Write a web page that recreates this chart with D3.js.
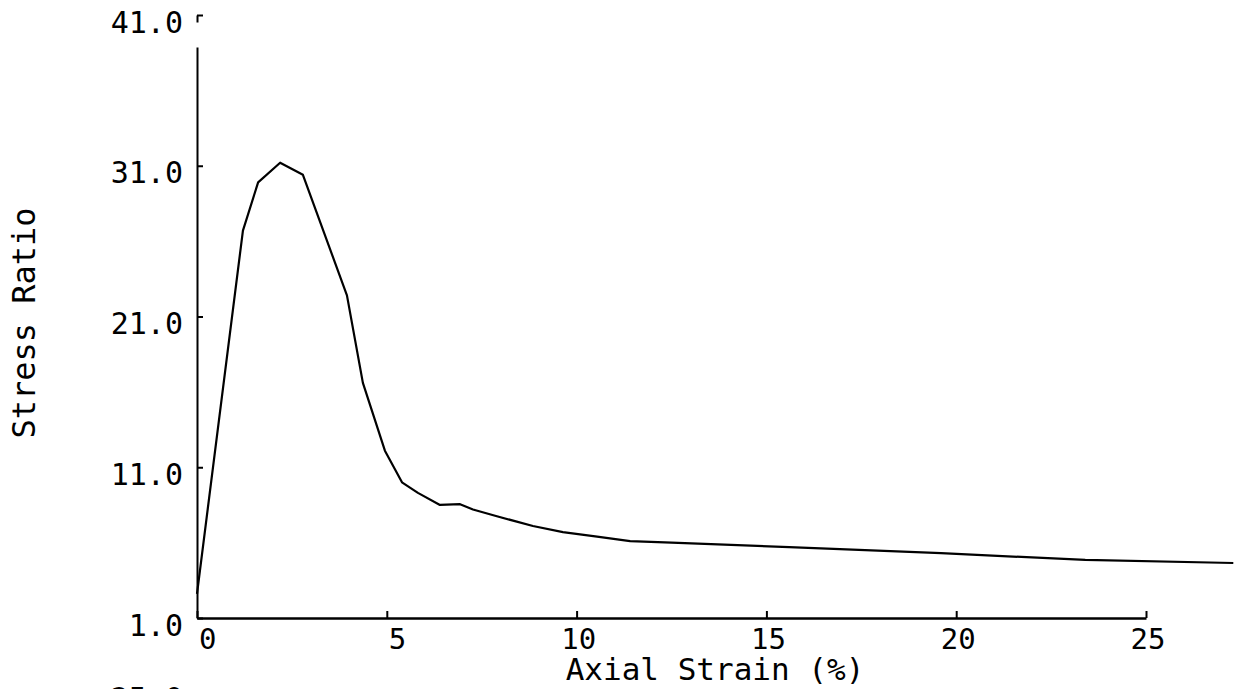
<!DOCTYPE html>
<html>
<head>
<meta charset="utf-8">
<script src="https://cdn.jsdelivr.net/npm/d3@7"></script>
<style>
  html, body { margin: 0; padding: 0; background: #fff; }
  svg { display: block; }
  text { font-family: "DejaVu Sans Mono", monospace; fill: #000; font-variant-numeric: slashed-zero; }
</style>
</head>
<body>
<div id="chart"></div>
<script>
// values
const strain = [0, 1.21, 1.61, 2.19, 2.79, 3.95, 4.37, 4.95, 5.40, 5.82, 6.40, 6.93, 7.27, 7.90, 8.85, 9.64, 10.54, 11.41, 12.5, 15.6, 19.6, 23.4, 27.3];
const stressRatio = [2.6, 26.7, 29.9, 31.2, 30.4, 22.4, 16.6, 12.1, 10.0, 9.3, 8.5, 8.55, 8.2, 7.75, 7.1, 6.7, 6.4, 6.1, 6.0, 5.7, 5.3, 4.85, 4.65];
const xTicks = [0, 5, 10, 15, 20, 25];
const yTicks = [1, 11, 21, 31, 41];

const width = 1242, height = 689;

const svg = d3.select("#chart").append("svg")
  .attr("width", width)
  .attr("height", height);

const xScale = d3.scaleLinear([0, 25], [197, 1146]);
const yScale = d3.scaleLinear([1, 41], [618, 15]);

// y axis, ticks point inward
const gY = svg.append("g")
  .attr("transform", "translate(197,0)")
  .call(d3.axisLeft(yScale).tickValues(yTicks).tickFormat(d3.format(".1f"))
    .tickSizeInner(-6).tickSizeOuter(0).tickPadding(14));
// the scanned axis has a small break just under the top tick
gY.select(".domain").attr("stroke-width", 2).attr("stroke-dasharray", "571,25,10");
gY.selectAll(".tick line").attr("stroke-width", 2);
gY.selectAll(".tick text")
  .attr("font-size", 30)
  .attr("font-family", "DejaVu Sans Mono")
  .attr("dy", 17);

// x axis
const gX = svg.append("g")
  .attr("transform", "translate(0,618)")
  .call(d3.axisBottom(xScale).tickValues(xTicks).tickFormat(d3.format("d"))
    .tickSizeInner(-7).tickSizeOuter(0).tickPadding(0));
gX.select(".domain").attr("stroke-width", 2.5);
gX.selectAll(".tick line").attr("stroke-width", 2);
gX.selectAll(".tick text")
  .attr("font-size", 29)
  .attr("font-family", "DejaVu Sans Mono")
  .attr("text-anchor", "end")
  .attr("x", 19)
  .attr("y", 31)
  .attr("dy", 0);

// axis titles
svg.append("text")
  .attr("x", 715).attr("y", 680)
  .attr("text-anchor", "middle")
  .attr("font-size", 31)
  .text("Axial Strain (%)");

svg.append("text")
  .attr("transform", "translate(35,323) rotate(-90)")
  .attr("text-anchor", "middle")
  .attr("font-size", 32)
  .text("Stress Ratio");

// label of the next plot, cut off by the page edge
svg.append("text")
  .attr("x", 183).attr("y", 709)
  .attr("text-anchor", "end")
  .attr("font-size", 30)
  .text("25.0");

// curve
const line = d3.line()
  .x((d, i) => xScale(strain[i]))
  .y(d => yScale(d));

svg.append("path")
  .datum(stressRatio)
  .attr("fill", "none")
  .attr("stroke", "#000")
  .attr("stroke-width", 2.2)
  .attr("stroke-linejoin", "round")
  .attr("d", line);
</script>
</body>
</html>
